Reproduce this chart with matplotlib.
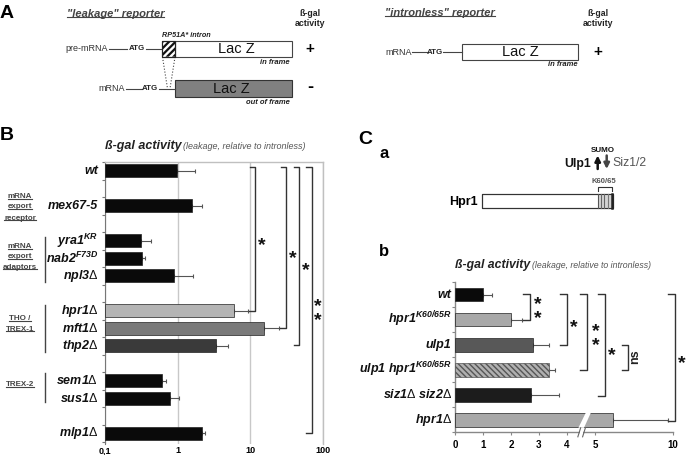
import matplotlib
matplotlib.use('Agg')
import matplotlib.pyplot as plt
import numpy as np
from matplotlib.patches import Rectangle, Polygon

# ---------------- data ----------------
B_labels = ['wt', 'mex67-5', 'yra1|KR', 'nab2|F73D', 'npl3Δ', 'hpr1Δ', 'mft1Δ',
            'thp2Δ', 'sem1Δ', 'sus1Δ', 'mlp1Δ']
B_pos = [0, 2, 4, 5, 6, 8, 9, 10, 12, 13, 15]
B_vals = [0.98, 1.59, 0.31, 0.32, 0.88, 5.95, 15.2, 3.33, 0.60, 0.79, 2.16]
B_err_hi = [1.73, 2.14, 0.43, 0.36, 1.62, 9.3, 24.7, 4.9, 0.70, 1.03, 2.40]
B_colors = ['#0a0a0a', '#0a0a0a', '#0a0a0a', '#0a0a0a', '#0a0a0a', '#b4b4b4',
            '#7a7a7a', '#3a3a3a', '#0a0a0a', '#0a0a0a', '#0a0a0a']
B_ticks = [0.1, 1, 10, 100]
B_ticklabels = ['0,1', '1', '10', '100']

C_labels = ['wt', 'hpr1|K60/65R', 'ulp1', 'ulp1 hpr1|K60/65R', 'siz1Δ siz2Δ', 'hpr1Δ']
C_pos = [0, 1, 2, 3, 4, 5]
C_vals = [1.0, 2.0, 2.77, 3.35, 2.72, 6.17]
C_err_hi = [1.34, 2.39, 3.37, 3.59, 3.73, 9.66]
C_colors = ['#0a0a0a', '#a8a8a8', '#585858', '#a0a0a0', '#1c1c1c', '#a8a8a8']
C_ticks = [0, 1, 2, 3, 4, 5, 10]

# ---------------- style ----------------
plt.rcParams['font.family'] = ['Liberation Sans', 'DejaVu Sans']
plt.rcParams['mathtext.fontset'] = 'custom'
plt.rcParams['mathtext.rm'] = 'Liberation Sans'
plt.rcParams['mathtext.it'] = 'Liberation Sans:italic'
plt.rcParams['mathtext.bf'] = 'Liberation Sans:bold'
try:
    plt.rcParams['mathtext.bfit'] = 'Liberation Sans:italic:bold'
except KeyError:
    pass

W, H = 686, 455
fig = plt.figure(figsize=(W / 100, H / 100), dpi=100)

ov = fig.add_axes([0, 0, 1, 1])
ov.set_xlim(0, W)
ov.set_ylim(H, 0)
ov.axis('off')


def mlabel(s):
    if '|' in s:
        base, sup = s.split('|')
        base = base.replace(' ', r'}\ \mathbfit{')
        return r'$\mathbfit{' + base + r'}^{\mathbfit{' + sup + '}}$'
    if 'Δ' in s:
        parts = s.split(' ')
        out = []
        for p in parts:
            out.append(r'\mathbfit{' + p.replace('Δ', '') + r'}\mathrm{\Delta}')
        return '$' + r'\ '.join(out) + '$'
    return s


underline = []
DK = '#444444'

# ---------------- panel letters ----------------
ov.text(0, 14, 'A', fontsize=14, weight='bold', va='center', ha='left')
ov.text(0, 136, 'B', fontsize=14, weight='bold', va='center', ha='left')
ov.text(358, 140, 'C', fontsize=14, weight='bold', va='center', ha='left')
ov.text(379, 153, 'a', fontsize=12, weight='bold', va='center', ha='left')
ov.text(379, 252, 'b', fontsize=12, weight='bold', va='center', ha='left')

# ---------------- panel A diagrams ----------------
underline.append(ov.text(66.7, 14, '"leakage" reporter', fontsize=8, weight='bold',
                         style='italic', color=DK, va='center', ha='left'))
underline.append(ov.text(385, 13.5, '"intronless" reporter', fontsize=8, weight='bold',
                         style='italic', color=DK, va='center', ha='left'))
for xc in (310, 598):
    ov.text(xc, 13.3, 'ß-gal', fontsize=6.3, weight='bold', ha='center', va='center', color='#222')
    ov.text(xc, 24, 'activity', fontsize=6.3, weight='bold', ha='center', va='center', color='#222')

lc = '#444444'
# pre-mRNA row
y1 = 48.7
ov.text(108, y1, 'pre-mRNA', fontsize=6.5, ha='right', va='center', color='#333')
ov.plot([108.5, 127], [y1, y1], color=lc, lw=0.8)
ov.text(136.5, y1, 'ATG', fontsize=5.7, weight='bold', ha='center', va='center', color='#222')
ov.plot([146, 162], [y1, y1], color=lc, lw=0.8)
hb = Rectangle((162, 40.7), 13, 16, facecolor='white', edgecolor='#222', lw=0.8, zorder=2)
ov.add_patch(hb)
for x0 in np.arange(146, 178, 6.5):
    st = Polygon([(x0, 56.7), (x0 + 3.2, 56.7), (x0 + 19.2, 40.7), (x0 + 16, 40.7)],
                 closed=True, facecolor='#111', edgecolor='none', zorder=2.5)
    ov.add_patch(st)
    st.set_clip_path(hb)
ov.add_patch(Rectangle((162, 40.7), 13, 16, facecolor='none', edgecolor='#222', lw=0.8, zorder=3))
ov.add_patch(Rectangle((175, 40.7), 116.7, 16, facecolor='white', edgecolor=lc, lw=0.8))
ov.text(236, y1, 'Lac Z', fontsize=10.5, ha='center', va='center', color='#111')
ov.text(290, 62.5, 'in frame', fontsize=5.5, weight='bold', style='italic', ha='right', va='center', color='#222')
ov.text(162, 35.5, 'RP51A* intron', fontsize=5.2, weight='bold', style='italic', ha='left', va='center', color='#222')
ov.text(310, y1, '+', fontsize=11, weight='bold', ha='center', va='center')
ov.plot([162.5, 167.5], [57, 88.5], color=lc, lw=0.8, ls=':')
ov.plot([175, 170], [57, 88.5], color=lc, lw=0.8, ls=':')

# mRNA row
y2 = 88.6
ov.text(125, y2, 'mRNA', fontsize=6.5, ha='right', va='center', color='#333')
ov.plot([125.5, 142], [y2, y2], color=lc, lw=0.8)
ov.text(150, y2, 'ATG', fontsize=5.7, weight='bold', ha='center', va='center', color='#222')
ov.plot([158.5, 175], [y2, y2], color=lc, lw=0.8)
ov.add_patch(Rectangle((175, 80.3), 116.7, 16.4, facecolor='#808080', edgecolor='#333', lw=0.8))
ov.text(231, y2, 'Lac Z', fontsize=10.5, ha='center', va='center', color='#111')
ov.text(290, 102, 'out of frame', fontsize=5.5, weight='bold', style='italic', ha='right', va='center', color='#222')
ov.text(310, y2 - 1, '-', fontsize=13, weight='bold', ha='center', va='center')

# intronless row
y3 = 52.2
ov.text(411.7, y3, 'mRNA', fontsize=6.5, ha='right', va='center', color='#333')
ov.plot([412.2, 428], [y3, y3], color=lc, lw=0.8)
ov.text(435, y3, 'ATG', fontsize=5.7, weight='bold', ha='center', va='center', color='#222')
ov.plot([442.5, 461.7], [y3, y3], color=lc, lw=0.8)
ov.add_patch(Rectangle((461.7, 43.5), 116.6, 16.5, facecolor='white', edgecolor=lc, lw=0.8))
ov.text(520, y3, 'Lac Z', fontsize=10.5, ha='center', va='center', color='#111')
ov.text(578, 64.5, 'in frame', fontsize=5.5, weight='bold', style='italic', ha='right', va='center', color='#222')
ov.text(598, y3, '+', fontsize=11, weight='bold', ha='center', va='center')

# ---------------- panel C a diagram ----------------
ov.text(478, 201.5, 'Hpr1', fontsize=9, weight='bold', ha='right', va='center')
ov.add_patch(Rectangle((481.7, 194.3), 131.3, 14, facecolor='white', edgecolor='#333', lw=0.8))
ov.add_patch(Rectangle((597.5, 194.3), 15.5, 14, facecolor='#d4d4d4', edgecolor='none'))
for xs, c, w in [(598, '#555', 0.8), (601, '#666', 0.8), (604, '#666', 0.8), (607.5, '#777', 0.8), (611.6, '#222', 1.8)]:
    ov.plot([xs, xs], [194.3, 208.3], color=c, lw=w)
ov.add_patch(Rectangle((481.7, 194.3), 131.3, 14, facecolor='none', edgecolor='#333', lw=0.8))
ov.plot([597.7, 597.7, 612.3, 612.3], [190.5, 186.7, 186.7, 190.5], color='#333', lw=0.8)
ov.text(604, 181.3, 'K60/65', fontsize=5.5, weight='bold', ha='center', va='center', color='#555')
ov.text(603, 150, 'SUMO', fontsize=5.8, weight='bold', ha='center', va='center', color='#111')
ov.text(591, 163.5, 'Ulp1', fontsize=8.8, weight='bold', ha='right', va='center', color='#111')
ov.text(612.5, 163.5, 'Siz1/2', fontsize=8.8, ha='left', va='center', color='#555')
ov.annotate('', xy=(597.7, 155.5), xytext=(597.7, 169),
            arrowprops=dict(arrowstyle='-|>', lw=1.8, color='#111', mutation_scale=8, shrinkA=0, shrinkB=0))
ov.annotate('', xy=(606.7, 169), xytext=(606.7, 155.5),
            arrowprops=dict(arrowstyle='-|>', lw=1.8, color='#444', mutation_scale=8, shrinkA=0, shrinkB=0))

# ---------------- panel B chart ----------------
ov.text(105, 149, 'ß-gal activity', fontsize=9, weight='bold', style='italic', ha='left', va='baseline', color='#222')
ov.text(183, 149, '(leakage, relative to intronless)', fontsize=6.5, style='italic', ha='left', va='baseline', color='#555')

axB = fig.add_axes([105 / W, 1 - 444 / H, 218 / W, (444 - 162) / H])
axB.set_facecolor('none')
axB.set_xscale('log')
axB.set_xlim(0.1, 100)
axB.set_ylim(15.6, -0.5)
base = 0.1
axB.barh(B_pos, [v - base for v in B_vals], left=base, height=0.74, color=B_colors,
         edgecolor='#222', lw=0.5, zorder=3,
         xerr=[np.zeros(len(B_vals)), np.array(B_err_hi) - np.array(B_vals)],
         error_kw=dict(ecolor='#555', elinewidth=0.8, capsize=1.3, capthick=0.8, zorder=2))
axB.set_xticks(B_ticks)
axB.set_xticklabels(B_ticklabels, fontsize=6.5, weight='bold')
axB.xaxis.set_minor_locator(matplotlib.ticker.NullLocator())
axB.tick_params(axis='x', length=0, pad=1.5)
axB.grid(axis='x', color='#c8c8c8', lw=1, zorder=0)
axB.set_axisbelow(True)
axB.set_yticks(np.arange(-0.5, 15.6, 1))
axB.set_yticklabels([])
axB.tick_params(axis='y', length=2.5, color='#777', width=0.8)
axB.spines['left'].set_color('#777')
axB.spines['bottom'].set_visible(False)
for s in ('top', 'right'):
    axB.spines[s].set_color('#c0c0c0')
    axB.spines[s].set_linewidth(1)
for p, lab in zip(B_pos, B_labels):
    axB.text(-0.031, p, mlabel(lab), transform=axB.get_yaxis_transform(), ha='right',
             va='center', fontsize=9, weight='bold', style='italic', color='#111')

# group labels panel B
groups = [(['mRNA', 'export', 'receptor'], [196.7, 207, 218]),
          (['mRNA', 'export', 'adaptors'], [246.8, 257, 267.3]),
          (['THO /', 'TREX-1'], [319, 329.3]),
          (['TREX-2'], [385])]
for lines, ys in groups:
    for t, yy in zip(lines, ys):
        underline.append(ov.text(20, yy, t, fontsize=5.8, weight='bold', ha='center',
                                 va='center', color=DK))
for y0, y1_ in [(236.7, 281.7), (305, 351.7), (373, 401.7)]:
    ov.plot([45, 45], [y0, y1_], color='#444', lw=1)

# brackets panel B (x in axes fraction, y in data)
tB = axB.get_yaxis_transform()
for xv, ybot in [(0.688, 8), (0.830, 9), (0.891, 9.95), (0.948, 15)]:
    axB.plot([xv - 0.024, xv, xv, xv - 0.026], [-0.21, -0.21, ybot, ybot],
             transform=tB, color='#333', lw=1, clip_on=False, zorder=5)

# ---------------- panel C b chart ----------------
ov.text(455, 268, 'ß-gal activity', fontsize=8.8, weight='bold', style='italic', ha='left', va='baseline', color='#222')
ov.text(531.5, 268, '(leakage, relative to intronless)', fontsize=6.3, style='italic', ha='left', va='baseline', color='#555')

K = 0.558


def fwd(x):
    x = np.asarray(x, dtype=float)
    return np.where(x <= 5, x, 5 + (x - 5) * K)


def inv(y):
    y = np.asarray(y, dtype=float)
    return np.where(y <= 5, y, 5 + (y - 5) / K)


axC = fig.add_axes([455 / W, 1 - 432.3 / H, 218 / W, (432.3 - 282) / H])
axC.set_facecolor('none')
axC.set_xscale('function', functions=(fwd, inv))
axC.set_xlim(0, 10)
axC.set_ylim(5.5, -0.5)
barsC = axC.barh(C_pos, C_vals, height=0.55, color=C_colors, edgecolor='#222', lw=0.5, zorder=3,
                 xerr=[np.zeros(len(C_vals)), np.array(C_err_hi) - np.array(C_vals)],
                 error_kw=dict(ecolor='#555', elinewidth=0.8, capsize=1.3, capthick=0.8, zorder=2))
barsC[3].set_hatch('\\\\\\\\\\\\')
barsC[3].set_edgecolor('#555')
barsC[3].set_facecolor('#b0b0b0')
axC.set_xticks(C_ticks)
axC.set_xticklabels([str(t) for t in C_ticks], fontsize=7, weight='bold')
axC.xaxis.set_minor_locator(matplotlib.ticker.NullLocator())
axC.tick_params(axis='x', length=2.5, color='#888', width=0.8, pad=3)
axC.set_yticks(np.arange(-0.5, 5.6, 1))
axC.set_yticklabels([])
axC.tick_params(axis='y', length=2.5, color='#888', width=0.8)
for s in ('top', 'right'):
    axC.spines[s].set_visible(False)
for s in ('left', 'bottom'):
    axC.spines[s].set_color('#888')
    axC.spines[s].set_linewidth(1)
for p, lab in zip(C_pos, C_labels):
    axC.text(-0.015, p, mlabel(lab), transform=axC.get_yaxis_transform(), ha='right',
             va='center', fontsize=9, weight='bold', style='italic', color='#111')

# break in hpr1Δ bar and in x axis
axC.add_patch(Polygon([(4.41, 5.32), (4.61, 5.32), (4.87, 4.68), (4.69, 4.68)], closed=True,
                      facecolor='white', edgecolor='none', zorder=4))
tX = axC.get_xaxis_transform()
axC.add_patch(Rectangle((4.47, -0.02), 0.12, 0.04, transform=tX, facecolor='white',
                        edgecolor='none', zorder=6, clip_on=False))
for xb in (4.44, 4.61):
    axC.plot([xb - 0.05, xb + 0.05], [-0.03, 0.03], transform=tX, color='#666', lw=0.8,
             clip_on=False, zorder=7)

# brackets panel C
tC = axC.get_yaxis_transform()
for xv, ytop, ybot in [(0.344, -0.04, 1.0), (0.512, -0.04, 2.03), (0.604, -0.04, 3.03),
                       (0.688, -0.04, 4.06), (0.795, 2.03, 3.0), (1.009, -0.04, 5.03)]:
    axC.plot([xv - 0.03, xv, xv, xv - 0.03], [ytop, ytop, ybot, ybot], transform=tC,
             color='#333', lw=1, clip_on=False, zorder=5)
ov.text(635.5, 356.7, 'ns', fontsize=9, weight='bold', rotation=90, ha='center', va='center', color='#222')

# single stars (centre positions in figure pixels)
stars = [(261.7, 239.3), (292.3, 251.7), (306, 264), (574, 320.7), (611.7, 349), (681.7, 356.7)]
for sx, sy in stars:
    ov.text(sx, sy + 11.0, '*', fontsize=14, weight='bold', ha='center', va='baseline', color='#111')
# stacked double stars (x, upper star centre, lower star centre)
dstars = [(317.7, 301.7, 312.3), (537.3, 300, 310.7), (595.7, 327, 338)]
for sx, sa, sb in dstars:
    ov.text(sx, (sa + sb) / 2 + 6.3, '*\n*', fontsize=14, weight='bold', ha='center',
            va='center', linespacing=0.75, color='#111')

# underline texts
fig.canvas.draw()
r = fig.canvas.get_renderer()
invt = ov.transData.inverted()
for t in underline:
    bb = t.get_window_extent(r)
    (xa, ya), (xb_, yb) = invt.transform([[bb.x0, bb.y0], [bb.x1, bb.y1]])
    yl = ya - 0.22 * (ya - yb)
    ov.plot([xa, xb_], [yl, yl], color=t.get_color(), lw=0.8)

fig.savefig('out.png', dpi=100)
